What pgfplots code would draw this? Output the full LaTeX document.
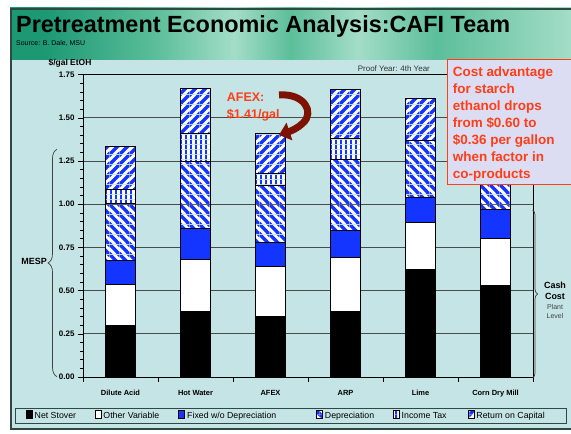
\documentclass[border=0pt]{standalone}
\usepackage{pgfplots}
\pgfplotsset{compat=1.18}
\usepackage{pgfplotstable}
\usepackage{fontspec}
\setmainfont{Liberation Sans}
\usetikzlibrary{patterns,decorations.pathreplacing,arrows.meta}

\definecolor{hdrA}{HTML}{1C9873}
\definecolor{hdrB}{HTML}{A3DDC8}
\definecolor{hdrC}{HTML}{5CBE9A}
\definecolor{hdrD}{HTML}{3FAE88}
\definecolor{panel}{HTML}{C5E4E6}
\definecolor{framec}{HTML}{2E4A40}
\definecolor{barblue}{HTML}{1434FF}
\definecolor{callout}{HTML}{FF3D17}
\definecolor{calloutbg}{HTML}{DCDCF2}
\definecolor{arrowred}{HTML}{7E1200}
\definecolor{gridc}{HTML}{4A4A4A}

\pgfdeclarehorizontalshading{hdr}{100bp}{color(0bp)=(hdrA); color(28bp)=(hdrA); color(38bp)=(hdrC); color(45bp)=(hdrB); color(50bp)=(hdrC); color(56bp)=(hdrB); color(63bp)=(hdrC); color(75bp)=(hdrB); color(85bp)=(hdrC); color(100bp)=(hdrD)}

% white-and-blue hatchings for the capital-related cost parts
\pgfdeclarepatterninherentlycolored{hatchNE}{\pgfpointorigin}{\pgfqpoint{10bp}{10bp}}{\pgfqpoint{10bp}{10bp}}{%
  \pgfsetfillcolor{white}%
  \pgfpathrectangle{\pgfpointorigin}{\pgfqpoint{10bp}{10bp}}\pgfusepath{fill}%
  \pgfsetfillcolor{barblue}%
  \pgfpathmoveto{\pgfqpoint{0bp}{0bp}}\pgfpathlineto{\pgfqpoint{2.6bp}{0bp}}\pgfpathlineto{\pgfqpoint{10bp}{7.4bp}}%
  \pgfpathlineto{\pgfqpoint{10bp}{10bp}}\pgfpathlineto{\pgfqpoint{7.4bp}{10bp}}\pgfpathlineto{\pgfqpoint{0bp}{2.6bp}}\pgfpathclose
  \pgfpathmoveto{\pgfqpoint{7.4bp}{0bp}}\pgfpathlineto{\pgfqpoint{10bp}{0bp}}\pgfpathlineto{\pgfqpoint{10bp}{2.6bp}}\pgfpathclose
  \pgfpathmoveto{\pgfqpoint{0bp}{7.4bp}}\pgfpathlineto{\pgfqpoint{0bp}{10bp}}\pgfpathlineto{\pgfqpoint{2.6bp}{10bp}}\pgfpathclose
  \pgfusepath{fill}}
\pgfdeclarepatterninherentlycolored{hatchNW}{\pgfpointorigin}{\pgfqpoint{10bp}{10bp}}{\pgfqpoint{10bp}{10bp}}{%
  \pgfsetfillcolor{white}%
  \pgfpathrectangle{\pgfpointorigin}{\pgfqpoint{10bp}{10bp}}\pgfusepath{fill}%
  \pgfsetfillcolor{barblue}%
  \pgfpathmoveto{\pgfqpoint{0bp}{10bp}}\pgfpathlineto{\pgfqpoint{0bp}{7.4bp}}\pgfpathlineto{\pgfqpoint{7.4bp}{0bp}}%
  \pgfpathlineto{\pgfqpoint{10bp}{0bp}}\pgfpathlineto{\pgfqpoint{10bp}{2.6bp}}\pgfpathlineto{\pgfqpoint{2.6bp}{10bp}}\pgfpathclose
  \pgfpathmoveto{\pgfqpoint{0bp}{0bp}}\pgfpathlineto{\pgfqpoint{2.6bp}{0bp}}\pgfpathlineto{\pgfqpoint{0bp}{2.6bp}}\pgfpathclose
  \pgfpathmoveto{\pgfqpoint{10bp}{10bp}}\pgfpathlineto{\pgfqpoint{7.4bp}{10bp}}\pgfpathlineto{\pgfqpoint{10bp}{7.4bp}}\pgfpathclose
  \pgfusepath{fill}}
\pgfdeclarepatterninherentlycolored{hatchV}{\pgfpointorigin}{\pgfqpoint{5bp}{5bp}}{\pgfqpoint{5bp}{5bp}}{%
  \pgfsetfillcolor{white}%
  \pgfpathrectangle{\pgfpointorigin}{\pgfqpoint{5bp}{5bp}}\pgfusepath{fill}%
  \pgfsetfillcolor{barblue}%
  \pgfpathrectangle{\pgfpointorigin}{\pgfqpoint{2.3bp}{5bp}}\pgfusepath{fill}}

% Minimum ethanol selling price components, $/gal EtOH
\pgfplotstableread{
idx stover other fixed dep tax ret
0 0.300 0.235 0.140 0.330 0.080 0.250
1 0.380 0.300 0.180 0.390 0.160 0.260
2 0.350 0.290 0.140 0.330 0.070 0.230
3 0.380 0.310 0.160 0.410 0.120 0.285
4 0.620 0.275 0.145 0.330 0.000 0.240
5 0.530 0.270 0.170 0.250 0.000 0.000
}\costs

\tikzset{
  keybox/.style={legend image code/.code={\draw[##1, line width=0.5bp] (0bp,-3bp) rectangle (5bp,3.5bp);}},
}

\begin{document}
\begin{tikzpicture}[x=1bp,y=1bp]
\fill[white] (0,0) rectangle (571,434);
% slide header and panel
\shade[shading=hdr] (10,374) rectangle (571,426);
\fill[panel] (10,4) rectangle (571,374);
\draw[framec, line width=1.2bp] (11,5) rectangle (576,425);

\node[anchor=base west, inner sep=0, font=\fontsize{23.5}{26}\selectfont\bfseries] at (16,401.7) {Pretreatment Economic Analysis:CAFI Team};
\node[anchor=base west, inner sep=0, font=\fontsize{7}{8}\selectfont] at (16,388.5) {Source: B. Dale, MSU};

\node[anchor=base west, inner sep=0, font=\fontsize{8}{9}\selectfont, text=black!80] at (357.7,362.5) {Proof Year: 4th Year};
\node[inner sep=0, font=\fontsize{8.5}{9}\selectfont\bfseries] at (70,371) {\$/gal EtOH};

\begin{scope}[shift={(83bp,57bp)}]
\begin{axis}[
  at={(0pt,0pt)}, anchor=south west,
  scale only axis, width=450bp, height=302.3bp,
  xmin=-0.5, xmax=5.5, ymin=0, ymax=1.75,
  ybar stacked, bar width=30bp,
  axis line style={black, line width=0.9bp},
  ymajorgrids, grid style={gridc, line width=0.9bp},
  ytick={0,0.25,0.5,0.75,1,1.25,1.5,1.75}, minor y tick num=4,
  ytick pos=left, xtick pos=bottom,
  tick align=outside,
  major tick length=5bp, minor tick length=3bp,
  tick style={black, line width=0.6bp},
  yticklabel style={font=\fontsize{8}{9}\selectfont\bfseries, /pgf/number format/.cd, fixed, fixed zerofill, precision=2, assume math mode=true, /tikz/.cd},
  xtick={-0.5,0.5,1.5,2.5,3.5,4.5,5.5},
  x tick label as interval,
  xticklabels={Dilute Acid, Hot Water, AFEX, ARP, Lime, Corn Dry Mill},
  xticklabel style={font=\fontsize{7.5}{9}\selectfont\bfseries, yshift=-5bp},
  legend columns=6,
  legend style={at={(-0.1522,-0.129)}, anchor=west, draw=framec, fill=none, line width=0.8bp,
    font=\fontsize{8.8}{10}\selectfont, inner xsep=11bp, inner ysep=1.5bp,
    /tikz/every even column/.append style={column sep=0bp}},
]
\addplot[fill=black, draw=black, line width=0.8bp, keybox] table[x=idx, y=stover]{\costs};
\addplot[fill=white, draw=black, line width=0.8bp, keybox] table[x=idx, y=other]{\costs};
\addplot[fill=barblue, draw=black, line width=0.8bp, keybox] table[x=idx, y=fixed]{\costs};
\addplot[pattern=hatchNW, draw=black, line width=0.8bp, keybox] table[x=idx, y=dep]{\costs};
\addplot[pattern=hatchV, draw=black, line width=0.8bp, keybox] table[x=idx, y=tax]{\costs};
\addplot[pattern=hatchNE, draw=black, line width=0.8bp, keybox] table[x=idx, y=ret]{\costs};
\legend{\makebox[58bp][l]{Net Stover}, \makebox[73bp][l]{Other Variable}, \makebox[127bp][l]{Fixed w/o Depreciation}, \makebox[66bp][l]{Depreciation}, \makebox[64bp][l]{Income Tax}, \makebox[77bp][l]{Return on Capital}}
\end{axis}
\end{scope}

% braces
\draw[black!75, line width=0.7bp, decorate, decoration={brace, amplitude=9bp}] (57,57.3) -- (57,284.7);
\node[anchor=east, inner sep=0, font=\fontsize{9}{10}\selectfont\bfseries] at (47,172.3) {MESP};
\draw[black!75, line width=0.7bp, decorate, decoration={brace, amplitude=5bp}] (532.5,224) -- (532.5,56);
\node[inner sep=0, font=\fontsize{9}{10}\selectfont\bfseries] at (555,149) {Cash};
\node[inner sep=0, font=\fontsize{9}{10}\selectfont\bfseries] at (555,138) {Cost};
\node[inner sep=0, font=\fontsize{7}{8}\selectfont, text=black!75] at (555,127.3) {Plant};
\node[inner sep=0, font=\fontsize{7}{8}\selectfont, text=black!75] at (555,118.3) {Level};

% AFEX callout
\node[anchor=base west, inner sep=0, font=\fontsize{12.5}{14}\selectfont\bfseries, text=callout] at (226.7,332.3) {AFEX:};
\node[anchor=base west, inner sep=0, font=\fontsize{12.5}{14}\selectfont\bfseries, text=callout] at (226.7,315.7) {\$1.41/gal};
\draw[arrowred, line width=7bp, -{Triangle[length=11bp,width=18bp]}]
  (279,339) .. controls (304,341) and (315,322) .. (303,311) .. controls (298,306) and (291,303) .. (279,299);

% starch ethanol note
\fill[calloutbg] (447,249) rectangle (576,374);
\draw[callout, line width=1bp] (447,249) rectangle (576,374);
\foreach \t [count=\i] in {Cost advantage, for starch, ethanol drops, from \$0.60 to, \$0.36 per gallon, when factor in, co-products}
  \node[anchor=base west, inner sep=0, font=\fontsize{13.5}{15}\selectfont\bfseries, text=callout] at (452.7,357.3-17*\i+17) {\t};

\pgfresetboundingbox
\useasboundingbox (0,0) rectangle (571,434);
\end{tikzpicture}
\end{document}
